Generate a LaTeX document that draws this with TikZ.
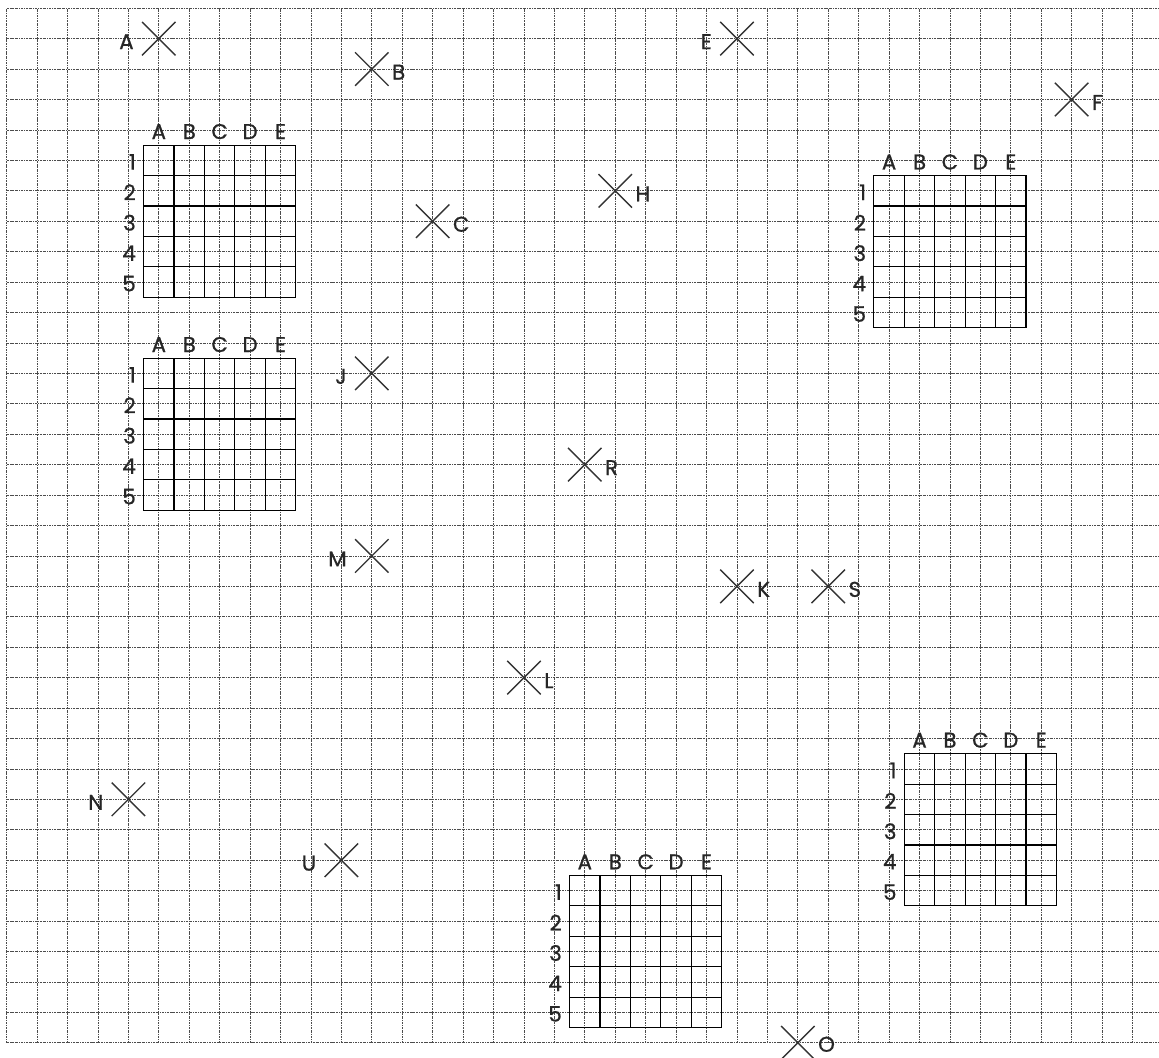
\documentclass[tikz,border=0pt]{standalone}
\usepackage{fontspec}
\newfontfamily\gothic[FakeBold=0.8]{Poppins}
\usetikzlibrary{positioning}
\tikzset{
  bg grid/.style={
    draw=black!70,
    line width=0.7pt,
    dash pattern=on 2pt off 0.9pt on 0.6pt off 0.9pt
  },
  table line/.style={
    draw=black,
    line width=1.05pt
  },
  cross line/.style={
    draw=black!80,
    line width=1.3pt
  },
  grid label/.style={
    font=\gothic\fontsize{20}{22}\selectfont,
    text=black!85,
    inner sep=0pt
  },
  col label/.style={grid label, anchor=base},
  row label/.style={grid label, anchor=east},
  mark label/.style={grid label, yshift=-0.1cm}
}

% 5x5 答题表: #1 名称, #2 左边 x, #3 上边 y
\newcommand{\answergrid}[3]{%
  \begin{scope}[shift={(#2,-#3)}]
    \foreach \i in {1,...,4} {
      \draw[table line] (\i,0) -- (\i,-5);
      \draw[table line] (0,-\i) -- (5,-\i);
    }
    \draw[table line] (0,0) rectangle (5,-5);
    \foreach \c [count=\i] in {A,B,C,D,E}
      \node[col label] (#1-\c) at (\i-0.5,0.2) {\c};
    \foreach \r in {1,...,5}
      \node[row label] (#1-\r) at (-0.25,0.45-\r) {\r};
  \end{scope}
}

\begin{document}
\begin{tikzpicture}
    \path[use as bounding box] (-0.22,0.27) rectangle (37.87,-34.49);
    \clip (-0.22,0.27) rectangle (37.87,-34.49);

    % 背景方格
    \draw[bg grid] (0,0) grid (38,-34);

    % 五个表格
    \answergrid{t1}{4.5}{4.5}
    \answergrid{t2}{4.5}{11.5}
    \answergrid{t3}{28.5}{5.5}
    \answergrid{t4}{29.5}{24.5}
    \answergrid{t5}{18.5}{28.5}

    % 叉号, 字母在左边
    \foreach \n/\x/\y in {A/5/1, E/24/1, J/12/12, M/12/18, N/4/26, U/11/28} {
      \coordinate (p\n) at (\x,-\y);
      \draw[cross line] (p\n) +(-.55,-.55) -- +(.55,.55) +(-.55,.55) -- +(.55,-.55);
      \node[mark label, left=0.82cm of p\n] (l\n) {\n};
    }

    % 叉号, 字母在右边
    \foreach \n/\x/\y in {B/12/2, C/14/7, F/35/3, H/20/6, R/19/15,
                          K/24/19, S/27/19, L/17/22} {
      \coordinate (p\n) at (\x,-\y);
      \draw[cross line] (p\n) +(-.55,-.55) -- +(.55,.55) +(-.55,.55) -- +(.55,-.55);
      \node[mark label, right=0.66cm of p\n] (l\n) {\n};
    }

    % 最下面的 O 贴着边
    \coordinate (pO) at (26,-34);
    \draw[cross line] (pO) +(-.55,-.55) -- +(.55,.55) +(-.55,.55) -- +(.55,-.55);
    \node[mark label, right=0.66cm of pO, yshift=0.05cm] (lO) {O};

  \end{tikzpicture}
\end{document}
